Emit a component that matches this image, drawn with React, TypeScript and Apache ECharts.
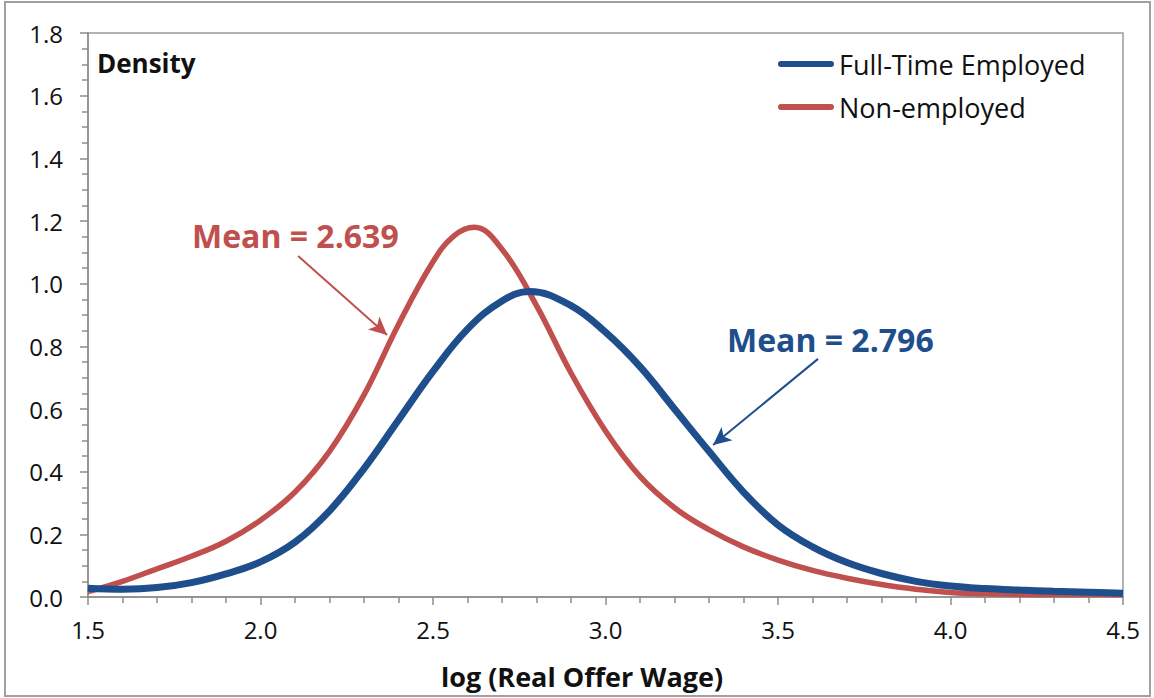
import React, { useEffect, useRef } from "react";
import * as echarts from "echarts";

const xTicks = [1.5, 2.0, 2.5, 3.0, 3.5, 4.0, 4.5];

const fullTimeX = [1.5, 1.6, 1.7, 1.8, 1.9, 2.0, 2.1, 2.2, 2.3, 2.4, 2.5, 2.6, 2.7, 2.78, 2.9, 3.0, 3.1, 3.2, 3.3, 3.4, 3.5, 3.6, 3.7, 3.8, 3.9, 4.0, 4.1, 4.2, 4.3, 4.4, 4.5];
const fullTimeY = [0.028, 0.025, 0.03, 0.046, 0.074, 0.112, 0.175, 0.275, 0.41, 0.565, 0.72, 0.855, 0.945, 0.975, 0.93, 0.845, 0.735, 0.6, 0.465, 0.335, 0.23, 0.16, 0.11, 0.075, 0.05, 0.035, 0.027, 0.022, 0.018, 0.015, 0.012];

const nonEmpX = [1.5, 1.6, 1.7, 1.8, 1.9, 2.0, 2.1, 2.2, 2.3, 2.4, 2.5, 2.56, 2.62, 2.7, 2.8, 2.9, 3.0, 3.1, 3.2, 3.3, 3.4, 3.5, 3.6, 3.7, 3.8, 3.9, 4.0, 4.1, 4.3, 4.5];
const nonEmpY = [0.017, 0.05, 0.09, 0.13, 0.178, 0.245, 0.335, 0.465, 0.645, 0.87, 1.07, 1.152, 1.18, 1.11, 0.93, 0.715, 0.53, 0.385, 0.285, 0.215, 0.16, 0.118, 0.085, 0.06, 0.04, 0.025, 0.014, 0.01, 0.008, 0.008];

const seriesNames = ["Full-Time Employed", "Non-employed"];
const meanLabels = ["Mean = 2.796", "Mean = 2.639"];
const blueArrow = [[3.616, 0.76], [3.312, 0.485]];
const redArrow = [[2.109, 1.088], [2.367, 0.836]];

const BLUE = "#1f4e8c";
const RED = "#c0504d";
const FONT = "'Open Sans', sans-serif";
const LEGEND_ICON = "path://M3,0 L53,0 A3,3 0 0 1 53,6 L3,6 A3,3 0 0 1 3,0 Z";

export default function App() {
  const ref = useRef<HTMLDivElement>(null);
  useEffect(() => {
    if (!ref.current) return;
    const chart = echarts.init(ref.current, undefined, { renderer: "svg" });
    const zip = (xs: number[], ys: number[]) => xs.map((x, i) => [x, ys[i]]);
    const arrowLine = (pts: number[][], color: string) => ({
      silent: true,
      symbol: ["none", "arrow"],
      symbolSize: [13, 18],
      label: { show: false },
      emphasis: { disabled: true },
      lineStyle: { color, width: 2, type: "solid" },
      data: [[{ coord: pts[0] }, { coord: pts[1] }]],
    });
    chart.setOption({
      animation: false,
      backgroundColor: "#ffffff",
      grid: {
        left: 88,
        right: 31,
        top: 33,
        bottom: 101,
        show: true,
        borderColor: "#9a9a9a",
        borderWidth: 1.5,
      },
      legend: {
        orient: "vertical",
        left: 773,
        top: 44,
        itemWidth: 56,
        itemHeight: 6,
        itemGap: 13,
        icon: LEGEND_ICON,
        data: seriesNames,
        textStyle: { fontFamily: FONT, fontSize: 27, color: "#111", lineHeight: 30 },
      },
      xAxis: {
        type: "value",
        min: 1.5,
        max: 4.5,
        interval: 0.5,
        axisLine: { show: true, lineStyle: { color: "#8c8c8c", width: 1.5 } },
        axisTick: { show: true, length: 8, lineStyle: { color: "#8c8c8c", width: 1.5 } },
        minorTick: { show: true, splitNumber: 5, length: 6, lineStyle: { color: "#8c8c8c", width: 1.5 } },
        splitLine: { show: false },
        axisLabel: {
          margin: 20,
          fontFamily: FONT,
          fontSize: 24,
          color: "#111",
          formatter: (v: number) => (xTicks.includes(v) ? v.toFixed(1) : ""),
        },
      },
      yAxis: {
        type: "value",
        min: 0,
        max: 1.8,
        interval: 0.2,
        axisLine: { show: true, lineStyle: { color: "#8c8c8c", width: 1.5 } },
        axisTick: { show: true, length: 8, lineStyle: { color: "#8c8c8c", width: 1.5 } },
        minorTick: { show: true, splitNumber: 4, length: 6, lineStyle: { color: "#8c8c8c", width: 1.5 } },
        splitLine: { show: false },
        axisLabel: {
          margin: 25,
          fontFamily: FONT,
          fontSize: 24,
          color: "#111",
          formatter: (v: number) => v.toFixed(1),
        },
      },
      series: [
        {
          name: seriesNames[1],
          type: "line",
          smooth: 0.4,
          showSymbol: false,
          symbol: "none",
          z: 2,
          lineStyle: { color: RED, width: 5.5 },
          itemStyle: { color: RED },
          data: zip(nonEmpX, nonEmpY),
          markLine: arrowLine(redArrow, RED),
        },
        {
          name: seriesNames[0],
          type: "line",
          smooth: 0.4,
          showSymbol: false,
          symbol: "none",
          z: 3,
          lineStyle: { color: BLUE, width: 7 },
          itemStyle: { color: BLUE },
          data: zip(fullTimeX, fullTimeY),
          markLine: arrowLine(blueArrow, BLUE),
        },
      ],
      graphic: [
        {
          type: "rect",
          shape: { x: 5, y: 2, width: 1145, height: 694 },
          style: { fill: "none", stroke: "#a0a0a0", lineWidth: 2 },
          silent: true,
        },
        {
          type: "text",
          x: 97,
          y: 63,
          style: { text: "Density", fontFamily: FONT, fontWeight: "bold", fontSize: 26, fill: "#111", verticalAlign: "middle" },
        },
        {
          type: "text",
          x: 582,
          y: 676,
          style: { text: "log (Real Offer Wage)", fontFamily: FONT, fontWeight: "bold", fontSize: 27, fill: "#111", align: "center", verticalAlign: "middle" },
        },
        {
          type: "text",
          x: 192,
          y: 235,
          style: { text: meanLabels[1], fontFamily: FONT, fontWeight: "bold", fontSize: 32, fill: RED, verticalAlign: "middle" },
        },
        {
          type: "text",
          x: 727,
          y: 339,
          style: { text: meanLabels[0], fontFamily: FONT, fontWeight: "bold", fontSize: 32, fill: BLUE, verticalAlign: "middle" },
        },
      ],
    });
    return () => chart.dispose();
  }, []);
  return <div ref={ref} style={{ position: "absolute", left: 0, top: 0, width: 1154, height: 698 }} />;
}
